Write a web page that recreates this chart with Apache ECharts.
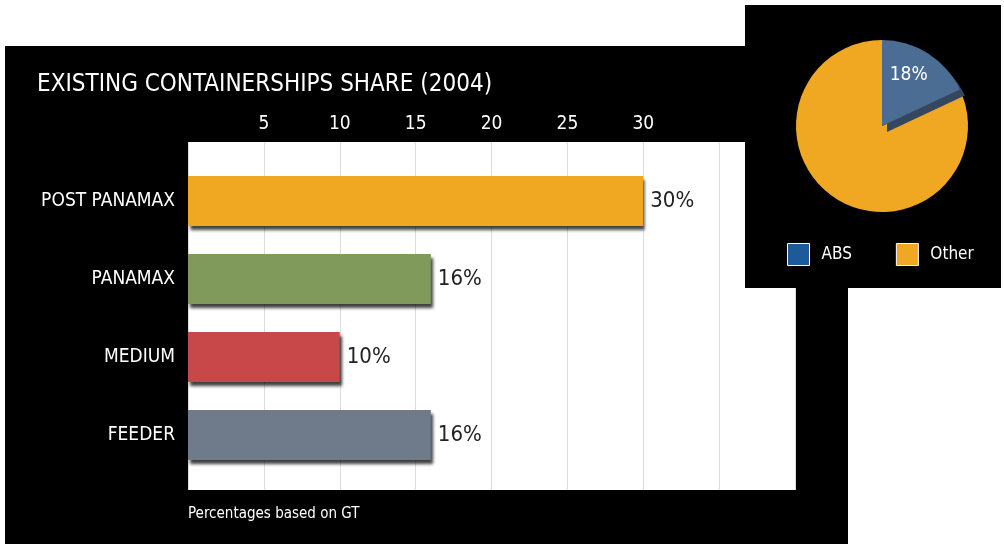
<!DOCTYPE html>
<html><head><meta charset="utf-8">
<script src="https://cdn.jsdelivr.net/npm/echarts@6/dist/echarts.min.js"></script>
<style>html,body{margin:0;padding:0;background:#fff}#c{width:1004px;height:544px}</style>
</head><body><div id="c"></div>
<script>
const title = 'EXISTING CONTAINERSHIPS SHARE (2004)';
const categories = ['POST PANAMAX', 'PANAMAX', 'MEDIUM', 'FEEDER'];
const values = [30, 16, 10, 16];
const barColors = ['#F0A823', '#7F9A5B', '#C8484A', '#6F7A8A'];
const tickLabels = [5, 10, 15, 20, 25, 30];
const pieNames = ['ABS', 'Other'];
const pieValues = [18, 82];
const pieColors = ['#4C6D93', '#F0A823'];
const legendColors = ['#1D5A9A', '#F0A823'];
const note = 'Percentages based on GT';

const FONT = '"Liberation Sans Narrow","DejaVu Sans Condensed","Roboto",sans-serif';
const total = pieValues.reduce((a, b) => a + b, 0);
// draw "Other" first so the ABS slice (and its shadow) sit on top
const pieOrder = [1, 0];
const startAngle = 90 - 360 * pieValues[0] / total;

const chart = echarts.init(document.getElementById('c'));
chart.setOption({
  backgroundColor: '#ffffff',
  animation: false,
  textStyle: { fontFamily: FONT },
  graphic: [
    { type: 'rect', z: -10, shape: { x: 5, y: 46, width: 843, height: 498 }, style: { fill: '#000' } },
    { type: 'rect', z: 1, shape: { x: 745, y: 5, width: 256, height: 283 }, style: { fill: '#000' } },
    { type: 'text', z: 3, left: 188, top: 507, style: { text: note, fill: '#fff', font: '15px ' + FONT } }
  ],
  title: {
    text: title, left: 32, top: 68,
    textStyle: { color: '#fff', fontSize: 24, fontWeight: 'normal', fontFamily: FONT }
  },
  grid: [
    { left: 188, right: 209, top: 142, bottom: 54, show: true, backgroundColor: '#fff', borderWidth: 0 },
    { left: 188, right: 209, top: 162, bottom: 70 }
  ],
  xAxis: [
    { gridIndex: 0, type: 'value', position: 'top', min: 0, max: 40, interval: 5,
      axisLine: { show: false }, axisTick: { show: false },
      splitLine: { show: true, lineStyle: { color: '#dcdcdc', width: 1 } },
      axisLabel: { color: '#fff', fontSize: 19, margin: 8, fontFamily: FONT,
        formatter: v => tickLabels.indexOf(v) >= 0 ? String(v) : '' } },
    { gridIndex: 1, type: 'value', min: 0, max: 40, show: false }
  ],
  yAxis: [
    { gridIndex: 0, type: 'category', data: categories, show: false },
    { gridIndex: 1, type: 'category', data: categories, inverse: true,
      axisLine: { show: false }, axisTick: { show: false },
      axisLabel: { color: '#fff', fontSize: 19, margin: 13, fontFamily: FONT } }
  ],
  legend: {
    left: 782, top: 238, itemWidth: 22, itemHeight: 22, itemGap: 44,
    icon: 'rect',
    textStyle: { color: '#fff', fontSize: 17, fontFamily: FONT, padding: [0, 0, 0, 7] },
    data: pieNames.map((n, i) => ({ name: n, itemStyle: { color: legendColors[i], borderColor: '#fff', borderWidth: 1 } }))
  },
  series: [
    { type: 'bar', xAxisIndex: 1, yAxisIndex: 1, barWidth: 50,
      data: values.map((v, i) => ({ value: v, itemStyle: { color: barColors[i] } })),
      itemStyle: { shadowColor: 'rgba(0,0,0,0.75)', shadowBlur: 3, shadowOffsetX: 2, shadowOffsetY: 4 },
      label: { show: true, position: 'right', distance: 7, color: '#222', fontSize: 22, fontFamily: FONT,
        formatter: p => p.value + '%' } },
    { type: 'pie', center: [882, 126], radius: 86, startAngle: startAngle, clockwise: true,
      z: 2, selectedOffset: 3,
      data: pieOrder.map(i => ({
        name: pieNames[i], value: pieValues[i], selected: i === 0,
        itemStyle: i === 0
          ? { color: pieColors[i], shadowColor: '#34475f', shadowOffsetX: 5, shadowOffsetY: 6, shadowBlur: 0 }
          : { color: pieColors[i] },
        label: i === 0 ? { show: true } : { show: false }
      })),
      label: { position: 'inside', color: '#fff', fontSize: 19, fontFamily: FONT, offset: [2, -12],
        formatter: p => p.value + '%' },
      labelLine: { show: false }, emphasis: { disabled: true }
    }
  ]
});
</script></body></html>
